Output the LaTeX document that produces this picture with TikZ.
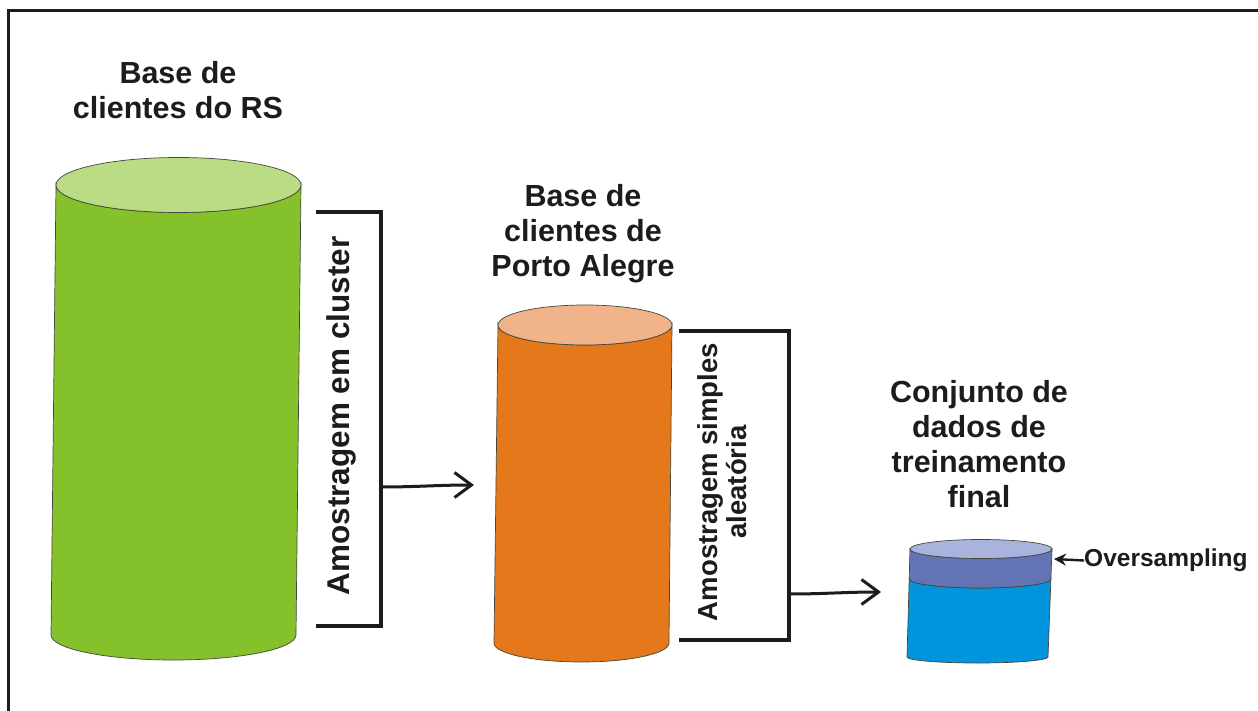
\documentclass[tikz,border=0pt]{standalone}
\usepackage{fontspec}
\setmainfont{Liberation Sans}
\usetikzlibrary{arrows.meta}
\definecolor{grbody}{RGB}{133,193,42}
\definecolor{grtop}{RGB}{185,220,133}
\definecolor{orbody}{RGB}{228,120,26}
\definecolor{ortop}{RGB}{241,179,138}
\definecolor{blbody}{RGB}{0,149,220}
\definecolor{blband}{RGB}{99,116,181}
\definecolor{bltop}{RGB}{169,179,220}
\definecolor{cylline}{RGB}{70,70,60}
\definecolor{ink}{RGB}{28,28,28}
\begin{document}
\begin{tikzpicture}[x=1pt,y=-1pt,
  cyl/.style={draw=cylline,line width=0.7pt},
  title/.style={font=\bfseries\fontsize{30.5}{35}\selectfont,align=center,inner sep=0pt,anchor=north,text=ink},
  sidetext/.style={font=\bfseries\fontsize{31.5}{36}\selectfont,inner sep=0pt,rotate=90,text=ink},
  sidetextb/.style={font=\bfseries\fontsize{27.5}{29}\selectfont,align=center,inner sep=0pt,rotate=90,text=ink},
  bracketline/.style={line width=3.6pt,ink},
  flow/.style={line width=3pt,ink,-{Straight Barb[length=17pt,width=25pt,line width=3pt]}},
  ovsarrow/.style={line width=2.4pt,ink,-{Stealth[length=12pt,width=12pt]}}
]
\useasboundingbox (0,0) rectangle (1258,711);
\fill[white] (0,0) rectangle (1258,711);
% frame
\draw[line width=3pt,ink] (8,715) -- (8,11) -- (1262,11);

% green cylinder
\path[cyl,fill=grbody] (56,185) -- (51,635) arc[start angle=180,end angle=0,x radius=122.5,y radius=25]
  -- (301,185) arc[start angle=0,end angle=180,x radius=122.5,y radius=27.5] -- cycle;
\path[cyl,fill=grtop] (178.5,185) ellipse[x radius=122.5,y radius=27.5];

% orange cylinder
\path[cyl,fill=orbody] (498,325) -- (494,643) arc[start angle=180,end angle=0,x radius=87.5,y radius=19]
  -- (672,325) arc[start angle=0,end angle=180,x radius=87,y radius=20] -- cycle;
\path[cyl,fill=ortop] (585,325) ellipse[x radius=87,y radius=20];

% blue cylinder
\path[cyl,fill=blbody] (909.2,579) -- (907,657) arc[start angle=180,end angle=0,x radius=70.5,y radius=6]
  -- (1050.9,579) arc[start angle=0,end angle=180,x radius=70.85,y radius=9] -- cycle;
\path[cyl,fill=blband] (910,549) -- (909.2,579) arc[start angle=180,end angle=0,x radius=70.85,y radius=9]
  -- (1052,549) arc[start angle=0,end angle=180,x radius=71,y radius=9.5] -- cycle;
\path[cyl,fill=bltop] (981,549) ellipse[x radius=71,y radius=9.5];

% titles
\node[title] (t1) at (178,61) {Base de\\clientes do RS};
\node[title] (t2) at (583,184) {Base de\\clientes de\\Porto Alegre};
\node[title] (t3) at (979,380) {Conjunto de\\dados de\\treinamento\\final};

% bracket 1
\coordinate (b1a) at (316,212);
\coordinate (b1b) at (381,212);
\coordinate (b1c) at (381,626);
\coordinate (b1d) at (316,626);
\draw[bracketline] (b1a) -- (b1b) -- (b1c) -- (b1d);
\node[sidetext] (s1) at (341,416) {Amostragem em cluster};
\coordinate (b1o) at (381,487);
\coordinate (a1e) at (474,485);
\draw[flow] (b1o) to[out=0,in=180] (a1e);

% bracket 2
\coordinate (b2a) at (679,331);
\coordinate (b2b) at (789,331);
\coordinate (b2c) at (789,640);
\coordinate (b2d) at (679,640);
\draw[bracketline] (b2a) -- (b2b) -- (b2c) -- (b2d);
\node[sidetextb] (s2) at (722,482) {Amostragem simples\\aleatória};
\coordinate (b2o) at (789,594);
\coordinate (a2e) at (881,592);
\draw[flow] (b2o) to[out=0,in=180] (a2e);

% oversampling
\node[font=\bfseries\fontsize{24.5}{28}\selectfont,inner sep=0pt,anchor=west,text=ink] (ovs) at (1084,560.5) {Oversampling};
\coordinate (bt) at (1054,559);
\draw[ovsarrow] (ovs.west) -- (bt);
\end{tikzpicture}
\end{document}
